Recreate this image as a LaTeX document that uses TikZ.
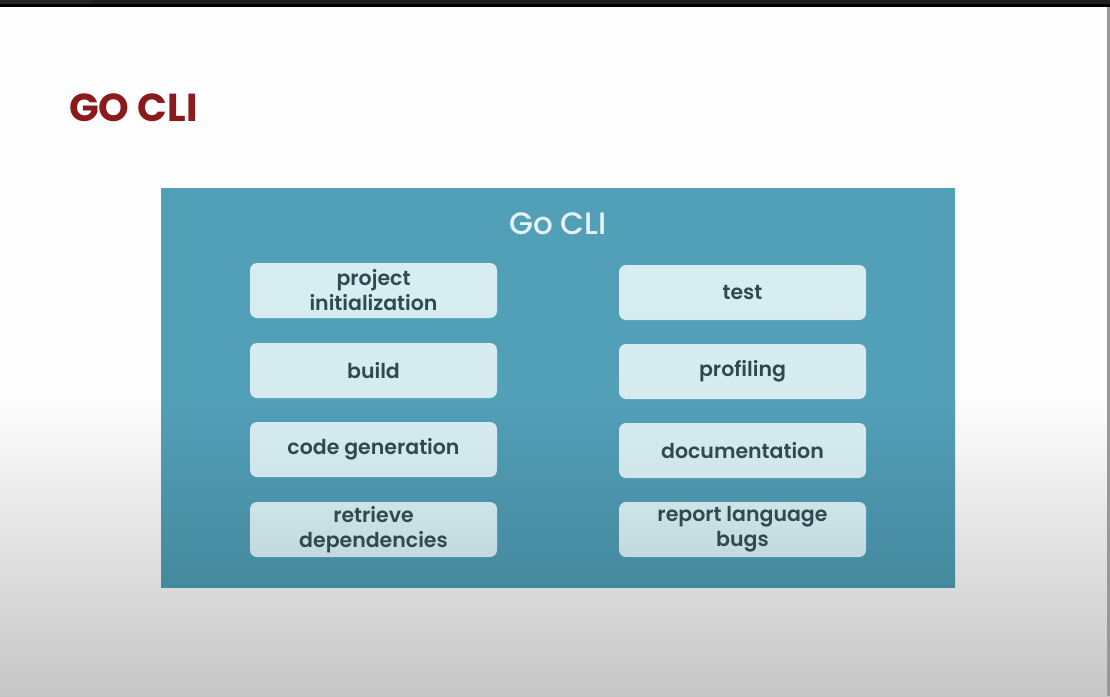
\documentclass[tikz,border=0pt]{standalone}
\usepackage{fontspec}
\setmainfont{Poppins}
\newfontfamily\medfont{Poppins Medium}
\newfontfamily\semifont{Poppins SemiBold}
\newfontfamily\boldfont{Poppins Bold}
\definecolor{pagetop}{HTML}{FCFDFC}
\definecolor{pagebot}{HTML}{C5C6C5}
\definecolor{titlered}{HTML}{8A1A1C}
\definecolor{paneltop}{HTML}{529FB8}
\definecolor{panelbot}{HTML}{45899E}
\definecolor{cardtop}{HTML}{D7EDF2}
\definecolor{cardbot}{HTML}{C4D9DE}
\definecolor{cardtext}{HTML}{2E4A50}
\definecolor{paneltitle}{HTML}{E6F4F7}
\tikzset{
  card/.style={rounded corners=7pt, minimum width=247pt, minimum height=55pt,
    inner sep=0pt, align=center, text=cardtext,
    font=\semifont\fontsize{20.5}{25}\selectfont},
}
\begin{document}
\begin{tikzpicture}[x=1pt,y=-1pt]
  \useasboundingbox (0,0) rectangle (1110,696);
  % page background: white, fading to grey towards the bottom
  \fill[pagetop] (0,0) rectangle (1110,400);
  \shade[top color=pagetop, bottom color=pagebot] (0,400) rectangle (1110,696);
  % window frame
  \fill[black] (0,0) rectangle (1110,7);
  \fill[black!85] (0,0) rectangle (92,4);
  \fill[black!88] (92,0) rectangle (1110,4);
  \fill[black!40] (1107,7) rectangle (1110,696);
  % heading
  \node[anchor=base west, inner sep=0pt, text=titlered,
        font=\boldfont\fontsize{39}{42}\selectfont] (heading) at (69,121) {GO CLI};
  % panel
  \fill[paneltop] (161,188) rectangle (955,400);
  \shade[top color=paneltop, bottom color=panelbot] (161,400) rectangle (955,587);
  \node[anchor=base, inner sep=0pt, text=paneltitle,
        font=\medfont\fontsize{31}{34}\selectfont] (panel) at (558,234) {Go CLI};
  % cards, left column
  \node[card, top color=cardtop, bottom color=cardtop!97!cardbot] (init) at (373.5,290.5) {project\\initialization};
  \node[card, top color=cardtop!97!cardbot, bottom color=cardtop!88!cardbot] (build) at (373.5,370.5) {build};
  \node[card, top color=cardtop!88!cardbot, bottom color=cardtop!62!cardbot] (gen) at (373.5,449.5) {code generation};
  \node[card, top color=cardtop!55!cardbot, bottom color=cardbot] (deps) at (373.5,529.5) {retrieve\\dependencies};
  % cards, right column
  \node[card, top color=cardtop, bottom color=cardtop!97!cardbot] (test) at (742.5,292.5) {test};
  \node[card, top color=cardtop!97!cardbot, bottom color=cardtop!88!cardbot] (prof) at (742.5,371.5) {profiling};
  \node[card, top color=cardtop!88!cardbot, bottom color=cardtop!62!cardbot] (docs) at (742.5,450.5) {documentation};
  \node[card, top color=cardtop!55!cardbot, bottom color=cardbot] (bugs) at (742.5,529.5) {report language\\bugs};
\end{tikzpicture}
\end{document}
